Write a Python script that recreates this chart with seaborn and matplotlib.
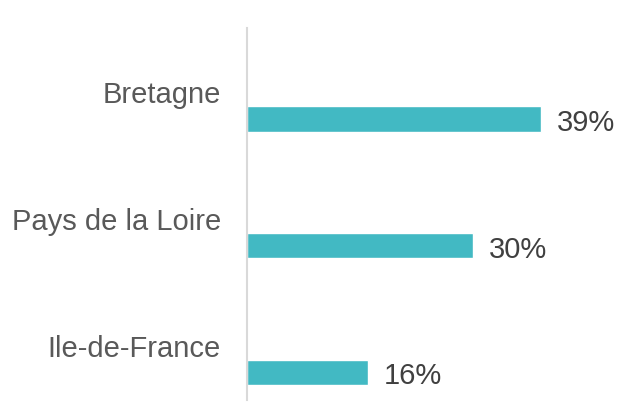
import matplotlib
matplotlib.use("Agg")
import matplotlib.pyplot as plt
import seaborn as sns
import pandas as pd

# Data
regions = ["Bretagne", "Pays de la Loire", "Ile-de-France"]
shares = [39, 30, 16]

df = pd.DataFrame({"region": regions, "share": shares})

sns.set_style("white")
plt.rcParams["font.family"] = ["Liberation Sans", "DejaVu Sans"]

fig = plt.figure(figsize=(6.19, 4.03), dpi=100)
ax = fig.add_axes([247 / 619, 3 / 403, 362 / 619, 372 / 403])

sns.barplot(data=df, x="share", y="region", orient="h", color="#42B9C3",
            width=0.2, saturation=1, ax=ax)

ax.set_xlim(0, 48)
ax.set_ylim(2.22, -0.72)

# Category labels above-left of bars
for i, name in enumerate(regions):
    ax.annotate(name, xy=(0, i), xycoords=("axes fraction", "data"),
                xytext=(-18.7, 17), textcoords="offset points",
                ha="right", va="center", fontsize=21, color="#595959")

# Value labels
for i, v in enumerate(shares):
    ax.annotate(f"{v}%", xy=(v, i), xytext=(11.5, -3), textcoords="offset points",
                ha="left", va="center", fontsize=21, color="#404040")

ax.set_xticks([])
ax.set_yticks([])
ax.set_xlabel("")
ax.set_ylabel("")
for side in ["top", "right", "bottom"]:
    ax.spines[side].set_visible(False)
ax.spines["left"].set_color("#D9D9D9")
ax.spines["left"].set_linewidth(1.5)

fig.savefig("out.png", dpi=100)
